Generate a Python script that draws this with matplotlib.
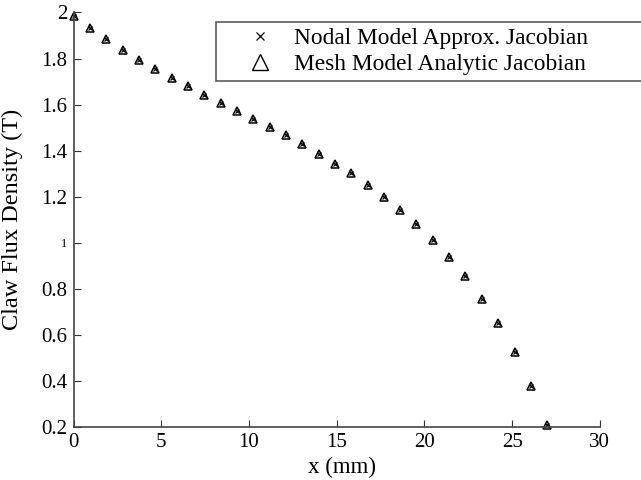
import matplotlib
matplotlib.use("Agg")
import matplotlib.pyplot as plt
import numpy as np

x_mm = [0.00, 0.93, 1.86, 2.79, 3.72, 4.66, 5.59, 6.52, 7.45, 8.38,
        9.31, 10.24, 11.17, 12.10, 13.03, 13.97, 14.90, 15.83, 16.76, 17.69,
        18.62, 19.55, 20.48, 21.41, 22.34, 23.28, 24.21, 25.14, 26.07, 27.00]
nodal_B = [1.986, 1.931, 1.883, 1.837, 1.793, 1.754, 1.717, 1.679, 1.643, 1.608,
           1.573, 1.538, 1.502, 1.466, 1.428, 1.385, 1.344, 1.301, 1.251, 1.199,
           1.141, 1.082, 1.014, 0.938, 0.854, 0.757, 0.650, 0.525, 0.379, 0.207]
mesh_B = list(nodal_B)

labels = ["Nodal Model Approx. Jacobian", "Mesh Model Analytic Jacobian"]
xticks = [0, 5, 10, 15, 20, 25, 30]
yticks = [0.2, 0.4, 0.6, 0.8, 1.0, 1.2, 1.4, 1.6, 1.8, 2.0]
ytick_labels = ["0.2", "0.4", "0.6", "0.8", "1", "1.2", "1.4", "1.6", "1.8", "2"]

plt.rcParams['font.family'] = ['Liberation Serif', 'DejaVu Serif']

fig = plt.figure(figsize=(6.41, 4.80), dpi=100)
ax = fig.add_axes([0.1148, 0.1104, 0.8209, 0.8636])

ax.plot(x_mm, nodal_B, linestyle='none', marker='x', color='black',
        markersize=3.2, markeredgewidth=0.9, label=labels[0], clip_on=False)
ax.plot(x_mm, mesh_B, linestyle='none', marker='^', markerfacecolor='none',
        markeredgecolor='black', markersize=6.2, markeredgewidth=1.1,
        label=labels[1], clip_on=False)

ax.set_xlim(0, 30)
ax.set_ylim(0.2, 2.0)
ax.set_xticks(xticks)
ax.set_yticks(yticks)
ax.set_yticklabels(ytick_labels)
ax.tick_params(direction='in', length=5, width=0.8, labelsize=15,
               top=False, right=False, colors='#333333', labelcolor='black')
ax.tick_params(axis='x', pad=4.5)
ax.tick_params(axis='y', pad=4.5)
for t in ax.get_yticklabels():
    if t.get_text() == "1":
        t.set_fontsize(9)
for s in ['top', 'right']:
    ax.spines[s].set_visible(False)
for s in ['left', 'bottom']:
    ax.spines[s].set_color('#444444')
    ax.spines[s].set_linewidth(1.2)

ax.set_xlabel("x (mm)", fontsize=16.5, labelpad=3)
ax.xaxis.label.set_x(0.511)
ax.set_ylabel("Claw Flux Density (T)", fontsize=17.5, labelpad=13)

leg = ax.legend(loc='upper left',
                bbox_to_anchor=(216 / 641, 1 - 81 / 480, 430 / 641, 59 / 480),
                bbox_transform=fig.transFigure, mode='expand',
                fontsize=16.8, frameon=True,
                fancybox=False, edgecolor='#333333', handlelength=3.3,
                handletextpad=-0.2, borderpad=0.25, labelspacing=0.2,
                borderaxespad=0)
leg.get_frame().set_linewidth(1.2)
hs = leg.legend_handles
hs[0].set_markersize(5.5)
hs[0].set_markeredgewidth(0.9)
hs[1].set_markersize(11)
hs[1].set_markeredgewidth(1.0)

fig.savefig("out.png", dpi=100)
